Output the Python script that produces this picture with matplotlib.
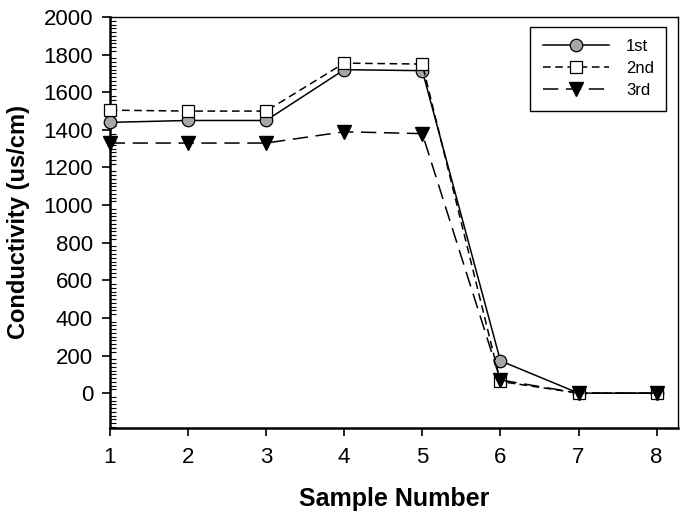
import numpy as np
import matplotlib
matplotlib.use("Agg")
import matplotlib.pyplot as plt
from matplotlib.ticker import MultipleLocator

plt.rcParams["font.family"] = ["Liberation Sans", "DejaVu Sans"]

# Conductivity readings per sample
samples = [1, 2, 3, 4, 5, 6, 7, 8]
first = [1440, 1450, 1450, 1720, 1715, 172, 0, 0]
second = [1505, 1500, 1500, 1755, 1750, 62, 0, 0]
third = [1330, 1330, 1330, 1390, 1380, 70, 0, 0]

fig = plt.figure(figsize=(6.86, 5.17), dpi=100)
ax = fig.add_axes([0.160, 0.173, 0.828, 0.794])

ax.plot(samples, first, "-", color="black", linewidth=1.1,
        marker="o", markersize=9, markerfacecolor="#a6a6a6",
        markeredgecolor="black", markeredgewidth=0.9, label="1st",
        clip_on=False, zorder=3)
ax.plot(samples, second, color="black", linewidth=1.1, dashes=(5, 3),
        marker="s", markersize=9, markerfacecolor="white",
        markeredgecolor="black", markeredgewidth=0.9, label="2nd",
        clip_on=False, zorder=4)
ax.plot(samples, third, color="black", linewidth=1.1, dashes=(10, 5),
        marker="v", markersize=10, markerfacecolor="black",
        markeredgecolor="black", label="3rd", clip_on=False, zorder=5)

ax.set_xlim(1, 8.27)
ax.set_ylim(-183, 2000)
ax.set_xticks(samples)
ax.yaxis.set_major_locator(MultipleLocator(200))
ax.yaxis.set_minor_locator(MultipleLocator(20))
ax.set_yticks(np.arange(0, 2001, 200))

ax.tick_params(axis="both", which="major", direction="out", length=6,
               width=1.2, labelsize=16, pad=6)
ax.tick_params(axis="y", which="minor", direction="in", length=4, width=0.8)
ax.tick_params(axis="x", which="major", pad=8)

for side in ["left", "bottom"]:
    ax.spines[side].set_linewidth(1.8)
for side in ["top", "right"]:
    ax.spines[side].set_linewidth(1.0)

ax.set_xlabel("Sample Number", fontsize=18, fontweight="bold", labelpad=14)
ax.set_ylabel("Conductivity (us/cm)", fontsize=17, fontweight="bold", labelpad=10)

leg = ax.legend(loc="upper right", bbox_to_anchor=(0.98, 0.977), fontsize=12,
                handlelength=4.0, handletextpad=1.0, borderpad=0.75,
                labelspacing=0.42, borderaxespad=0, fancybox=False, framealpha=1)
leg.get_frame().set_edgecolor("black")
leg.get_frame().set_linewidth(1.0)

fig.savefig("out.png", dpi=100)
